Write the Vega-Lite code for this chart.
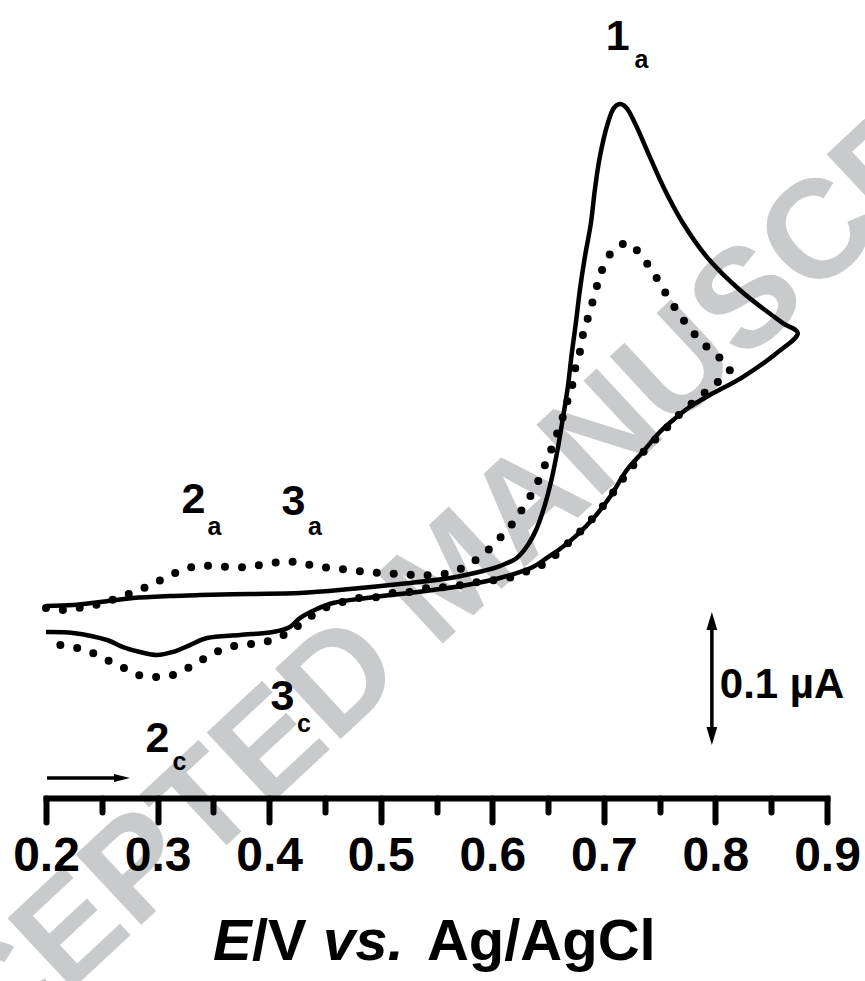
{
  "$schema": "https://vega.github.io/schema/vega-lite/v6.json",
  "width": 781,
  "height": 798,
  "autosize": {"type": "none"},
  "padding": {"left": 46, "top": 0, "right": 38, "bottom": 183},
  "background": "white",
  "config": {"view": {"stroke": null}},
  "datasets": {
    "watermark": [{"text": "ACCEPTED MANUSCRIPT", "E": 0.5647, "I": 0.0162}],
    "solid": [
      {"i": 1, "E": 0.2, "I": -0.0056}, {"i": 2, "E": 0.2242, "I": -0.0049}, {"i": 3, "E": 0.2484, "I": -0.0026},
      {"i": 4, "E": 0.278, "I": 0.0004}, {"i": 5, "E": 0.3111, "I": 0.0019}, {"i": 6, "E": 0.338, "I": 0.0026},
      {"i": 7, "E": 0.3828, "I": 0.0034}, {"i": 8, "E": 0.4276, "I": 0.0041}, {"i": 9, "E": 0.4724, "I": 0.0071},
      {"i": 10, "E": 0.5172, "I": 0.0109}, {"i": 11, "E": 0.562, "I": 0.0154}, {"i": 12, "E": 0.5916, "I": 0.0207},
      {"i": 13, "E": 0.6068, "I": 0.0244}, {"i": 14, "E": 0.622, "I": 0.0305}, {"i": 15, "E": 0.6319, "I": 0.0402},
      {"i": 16, "E": 0.64, "I": 0.053}, {"i": 17, "E": 0.6471, "I": 0.0703}, {"i": 18, "E": 0.6534, "I": 0.0906},
      {"i": 19, "E": 0.6588, "I": 0.1132}, {"i": 20, "E": 0.6633, "I": 0.1357}, {"i": 21, "E": 0.6677, "I": 0.159},
      {"i": 22, "E": 0.6713, "I": 0.1846}, {"i": 23, "E": 0.6749, "I": 0.2071}, {"i": 24, "E": 0.6785, "I": 0.232},
      {"i": 25, "E": 0.683, "I": 0.2568}, {"i": 26, "E": 0.6884, "I": 0.2823}, {"i": 27, "E": 0.6919, "I": 0.3071},
      {"i": 28, "E": 0.6964, "I": 0.332}, {"i": 29, "E": 0.7036, "I": 0.3575}, {"i": 30, "E": 0.709, "I": 0.3688},
      {"i": 31, "E": 0.7143, "I": 0.3718}, {"i": 32, "E": 0.7197, "I": 0.3695}, {"i": 33, "E": 0.7278, "I": 0.3575},
      {"i": 34, "E": 0.7412, "I": 0.332}, {"i": 35, "E": 0.7547, "I": 0.3071}, {"i": 36, "E": 0.7708, "I": 0.2823},
      {"i": 37, "E": 0.7923, "I": 0.2568}, {"i": 38, "E": 0.8219, "I": 0.232}, {"i": 39, "E": 0.8604, "I": 0.2071},
      {"i": 40, "E": 0.8738, "I": 0.1996}, {"i": 41, "E": 0.855, "I": 0.1846}, {"i": 42, "E": 0.8245, "I": 0.1665},
      {"i": 43, "E": 0.795, "I": 0.153}, {"i": 44, "E": 0.7797, "I": 0.1455}, {"i": 45, "E": 0.7654, "I": 0.1365},
      {"i": 46, "E": 0.7502, "I": 0.1252}, {"i": 47, "E": 0.7349, "I": 0.1102}, {"i": 48, "E": 0.7206, "I": 0.0966},
      {"i": 49, "E": 0.7054, "I": 0.0763}, {"i": 50, "E": 0.6901, "I": 0.0598}, {"i": 51, "E": 0.6758, "I": 0.0477},
      {"i": 52, "E": 0.6606, "I": 0.0372}, {"i": 53, "E": 0.6489, "I": 0.0305}, {"i": 54, "E": 0.6364, "I": 0.0237},
      {"i": 55, "E": 0.6068, "I": 0.0154}, {"i": 56, "E": 0.5772, "I": 0.0102}, {"i": 57, "E": 0.5468, "I": 0.0064},
      {"i": 58, "E": 0.5172, "I": 0.0034}, {"i": 59, "E": 0.4876, "I": 0.0004}, {"i": 60, "E": 0.4572, "I": -0.0034},
      {"i": 61, "E": 0.4428, "I": -0.0079}, {"i": 62, "E": 0.4276, "I": -0.0147}, {"i": 63, "E": 0.4186, "I": -0.0214},
      {"i": 64, "E": 0.4034, "I": -0.0252}, {"i": 65, "E": 0.3738, "I": -0.0274}, {"i": 66, "E": 0.3443, "I": -0.0297},
      {"i": 67, "E": 0.329, "I": -0.035}, {"i": 68, "E": 0.3138, "I": -0.0402}, {"i": 69, "E": 0.2995, "I": -0.0425},
      {"i": 70, "E": 0.2842, "I": -0.0402}, {"i": 71, "E": 0.269, "I": -0.0365}, {"i": 72, "E": 0.2547, "I": -0.0312},
      {"i": 73, "E": 0.2242, "I": -0.0259}, {"i": 74, "E": 0.2, "I": -0.0252}
    ],
    "dotted": [
      {"i": 1, "E": 0.2, "I": -0.0071}, {"i": 2, "E": 0.2143, "I": -0.0086}, {"i": 3, "E": 0.2287, "I": -0.0071},
      {"i": 4, "E": 0.2439, "I": -0.0049}, {"i": 5, "E": 0.2591, "I": -0.0011}, {"i": 6, "E": 0.2744, "I": 0.0034},
      {"i": 7, "E": 0.2896, "I": 0.0086}, {"i": 8, "E": 0.3048, "I": 0.0147}, {"i": 9, "E": 0.3201, "I": 0.0207},
      {"i": 10, "E": 0.3353, "I": 0.0244}, {"i": 11, "E": 0.3496, "I": 0.0244}, {"i": 12, "E": 0.3649, "I": 0.0237},
      {"i": 13, "E": 0.381, "I": 0.0237}, {"i": 14, "E": 0.3962, "I": 0.0259}, {"i": 15, "E": 0.4115, "I": 0.0274},
      {"i": 16, "E": 0.4258, "I": 0.0274}, {"i": 17, "E": 0.441, "I": 0.0244}, {"i": 18, "E": 0.4563, "I": 0.0229},
      {"i": 19, "E": 0.4724, "I": 0.0214}, {"i": 20, "E": 0.4876, "I": 0.0199}, {"i": 21, "E": 0.502, "I": 0.0192},
      {"i": 22, "E": 0.5172, "I": 0.0184}, {"i": 23, "E": 0.5324, "I": 0.0177}, {"i": 24, "E": 0.5468, "I": 0.0177},
      {"i": 25, "E": 0.5638, "I": 0.0199}, {"i": 26, "E": 0.5781, "I": 0.0252}, {"i": 27, "E": 0.5934, "I": 0.0342},
      {"i": 28, "E": 0.6068, "I": 0.0455}, {"i": 29, "E": 0.6185, "I": 0.0568}, {"i": 30, "E": 0.6292, "I": 0.0703},
      {"i": 31, "E": 0.6382, "I": 0.0831}, {"i": 32, "E": 0.6453, "I": 0.0966}, {"i": 33, "E": 0.6516, "I": 0.1094},
      {"i": 34, "E": 0.657, "I": 0.1214}, {"i": 35, "E": 0.6624, "I": 0.1342}, {"i": 36, "E": 0.6668, "I": 0.147},
      {"i": 37, "E": 0.6713, "I": 0.159}, {"i": 38, "E": 0.674, "I": 0.1718}, {"i": 39, "E": 0.6785, "I": 0.1853},
      {"i": 40, "E": 0.6812, "I": 0.1981}, {"i": 41, "E": 0.6857, "I": 0.2109}, {"i": 42, "E": 0.6901, "I": 0.2237},
      {"i": 43, "E": 0.6946, "I": 0.2372}, {"i": 44, "E": 0.6991, "I": 0.2485}, {"i": 45, "E": 0.7072, "I": 0.2605},
      {"i": 46, "E": 0.7215, "I": 0.2673}, {"i": 47, "E": 0.7349, "I": 0.256}, {"i": 48, "E": 0.7457, "I": 0.2432},
      {"i": 49, "E": 0.7547, "I": 0.2305}, {"i": 50, "E": 0.7645, "I": 0.2177}, {"i": 51, "E": 0.7753, "I": 0.2049},
      {"i": 52, "E": 0.7887, "I": 0.1921}, {"i": 53, "E": 0.8039, "I": 0.1808}, {"i": 54, "E": 0.8129, "I": 0.1718},
      {"i": 55, "E": 0.7977, "I": 0.1598}, {"i": 56, "E": 0.7824, "I": 0.1492}, {"i": 57, "E": 0.7672, "I": 0.138},
      {"i": 58, "E": 0.7529, "I": 0.1252}, {"i": 59, "E": 0.7385, "I": 0.1132}, {"i": 60, "E": 0.726, "I": 0.0996},
      {"i": 61, "E": 0.7143, "I": 0.0868}, {"i": 62, "E": 0.7036, "I": 0.0741}, {"i": 63, "E": 0.691, "I": 0.0613},
      {"i": 64, "E": 0.6785, "I": 0.05}, {"i": 65, "E": 0.6633, "I": 0.038}, {"i": 66, "E": 0.6489, "I": 0.0274},
      {"i": 67, "E": 0.6337, "I": 0.0214}, {"i": 68, "E": 0.6176, "I": 0.0162}, {"i": 69, "E": 0.6023, "I": 0.0139},
      {"i": 70, "E": 0.5871, "I": 0.0124}, {"i": 71, "E": 0.5728, "I": 0.0102}, {"i": 72, "E": 0.5566, "I": 0.0086},
      {"i": 73, "E": 0.5414, "I": 0.0079}, {"i": 74, "E": 0.5262, "I": 0.0049}, {"i": 75, "E": 0.5109, "I": 0.0041},
      {"i": 76, "E": 0.4966, "I": 0.0011}, {"i": 77, "E": 0.4814, "I": 0.0004}, {"i": 78, "E": 0.4661, "I": -0.0026},
      {"i": 79, "E": 0.4518, "I": -0.0064}, {"i": 80, "E": 0.4366, "I": -0.0139}, {"i": 81, "E": 0.4204, "I": -0.0237},
      {"i": 82, "E": 0.4052, "I": -0.0305}, {"i": 83, "E": 0.39, "I": -0.0335}, {"i": 84, "E": 0.3738, "I": -0.035},
      {"i": 85, "E": 0.3586, "I": -0.038}, {"i": 86, "E": 0.3443, "I": -0.044}, {"i": 87, "E": 0.329, "I": -0.0515},
      {"i": 88, "E": 0.3138, "I": -0.0575}, {"i": 89, "E": 0.2977, "I": -0.059}, {"i": 90, "E": 0.2824, "I": -0.0575},
      {"i": 91, "E": 0.2681, "I": -0.0515}, {"i": 92, "E": 0.2529, "I": -0.0455}, {"i": 93, "E": 0.2376, "I": -0.0395},
      {"i": 94, "E": 0.2233, "I": -0.0365}, {"i": 95, "E": 0.2063, "I": -0.0342}, {"i": 96, "E": 0.2, "I": -0.0334}
    ],
    "peaks": [
      {"text": "1", "E": 0.7125, "I": 0.4124},
      {"text": "2", "E": 0.3322, "I": 0.0643},
      {"text": "3", "E": 0.4218, "I": 0.0628},
      {"text": "3", "E": 0.4119, "I": -0.0838},
      {"text": "2", "E": 0.2999, "I": -0.1154}
    ],
    "subs": [
      {"text": "a", "E": 0.7336, "I": 0.3989},
      {"text": "a", "E": 0.351, "I": 0.0477},
      {"text": "a", "E": 0.441, "I": 0.0477},
      {"text": "c", "E": 0.4312, "I": -0.1004},
      {"text": "c", "E": 0.3196, "I": -0.1289}
    ],
    "scalebar": [{"E": 0.7968, "I": -0.0169, "I2": -0.1034}],
    "scaleUp": [{"E": 0.7968, "I": -0.0169}],
    "scaleDown": [{"E": 0.7968, "I": -0.1034}],
    "scaleLabel": [{"text": "0.1 µA", "E": 0.8039, "I": -0.0748}],
    "scan": [{"E": 0.2009, "E2": 0.268, "I": -0.135}],
    "scanHead": [{"E": 0.2681, "I": -0.135}],
    "titleItalic": [{"text": "E", "E": 0.3496, "I": -0.2718}, {"text": "vs.", "E": 0.4482, "I": -0.2718}],
    "titleUpright": [{"text": "/V", "E": 0.3846, "I": -0.2718}, {"text": "Ag/AgCl", "E": 0.5414, "I": -0.2718}]
  },
  "encoding": {
    "x": {
      "field": "E", "type": "quantitative",
      "scale": {"domain": [0.2, 0.9], "nice": false, "zero": false},
      "axis": {
        "values": [0.2, 0.25, 0.3, 0.35, 0.4, 0.45, 0.5, 0.55, 0.6, 0.65, 0.7, 0.75, 0.8, 0.85, 0.9],
        "title": null,
        "grid": false,
        "zindex": 1,
        "domainColor": "black",
        "domainWidth": 6,
        "domainCap": "square",
        "tickColor": "black",
        "tickWidth": 6,
        "tickCap": "round",
        "tickSize": {"condition": {"test": "round(datum.value*100) % 10 == 5", "value": 14}, "value": 24},
        "labelExpr": "round(datum.value*100) % 10 == 5 ? '' : format(datum.value, '.1f')",
        "labelFont": "Liberation Sans",
        "labelFontWeight": "bold",
        "labelFontSize": 48,
        "labelColor": "black",
        "labelPadding": 10,
        "labelFlush": false,
        "labelOverlap": false
      }
    },
    "y": {
      "field": "I", "type": "quantitative",
      "scale": {"domain": [-0.15, 0.45], "nice": false, "zero": false},
      "axis": null
    }
  },
  "layer": [
    {
      "data": {"name": "watermark"},
      "mark": {"type": "text", "font": "Liberation Sans", "fontWeight": "bold", "fontSize": 140, "color": "#c9cacc", "angle": -43, "align": "center", "baseline": "middle"},
      "encoding": {"text": {"field": "text"}}
    },
    {
      "data": {"name": "solid"},
      "mark": {"type": "line", "color": "black", "strokeWidth": 4.5, "interpolate": "catmull-rom", "strokeJoin": "round"},
      "encoding": {"order": {"field": "i", "type": "quantitative"}}
    },
    {
      "data": {"name": "dotted"},
      "mark": {"type": "line", "color": "black", "strokeWidth": 8, "strokeCap": "round", "strokeDash": [0, 17], "interpolate": "catmull-rom"},
      "encoding": {"order": {"field": "i", "type": "quantitative"}}
    },
    {
      "data": {"name": "peaks"},
      "mark": {"type": "text", "font": "Liberation Sans", "fontWeight": "bold", "fontSize": 43, "color": "black", "align": "center", "baseline": "alphabetic"},
      "encoding": {"text": {"field": "text"}}
    },
    {
      "data": {"name": "subs"},
      "mark": {"type": "text", "font": "Liberation Sans", "fontWeight": "bold", "fontSize": 25, "color": "black", "align": "center", "baseline": "alphabetic"},
      "encoding": {"text": {"field": "text"}}
    },
    {
      "data": {"name": "scalebar"},
      "mark": {"type": "rule", "color": "black", "strokeWidth": 3.5},
      "encoding": {"y2": {"field": "I2"}}
    },
    {
      "data": {"name": "scaleUp"},
      "mark": {"type": "point", "shape": "M0,-1L0.6,1L-0.6,1Z", "filled": true, "color": "black", "opacity": 1, "size": 324},
      "encoding": {}
    },
    {
      "data": {"name": "scaleDown"},
      "mark": {"type": "point", "shape": "M0,1L0.6,-1L-0.6,-1Z", "filled": true, "color": "black", "opacity": 1, "size": 324},
      "encoding": {}
    },
    {
      "data": {"name": "scaleLabel"},
      "mark": {"type": "text", "font": "Liberation Sans", "fontWeight": "bold", "fontSize": 42, "color": "black", "align": "left", "baseline": "alphabetic"},
      "encoding": {"text": {"field": "text"}}
    },
    {
      "data": {"name": "scan"},
      "mark": {"type": "rule", "color": "black", "strokeWidth": 3.5},
      "encoding": {"x2": {"field": "E2"}}
    },
    {
      "data": {"name": "scanHead"},
      "mark": {"type": "point", "shape": "M1,0L-1,-0.5L-1,0.5Z", "filled": true, "color": "black", "opacity": 1, "size": 256},
      "encoding": {}
    },
    {
      "data": {"name": "titleItalic"},
      "mark": {"type": "text", "font": "Liberation Sans", "fontWeight": "bold", "fontStyle": "italic", "fontSize": 58, "color": "black", "align": "left", "baseline": "alphabetic"},
      "encoding": {"text": {"field": "text"}}
    },
    {
      "data": {"name": "titleUpright"},
      "mark": {"type": "text", "font": "Liberation Sans", "fontWeight": "bold", "fontSize": 58, "color": "black", "align": "left", "baseline": "alphabetic"},
      "encoding": {"text": {"field": "text"}}
    }
  ]
}
